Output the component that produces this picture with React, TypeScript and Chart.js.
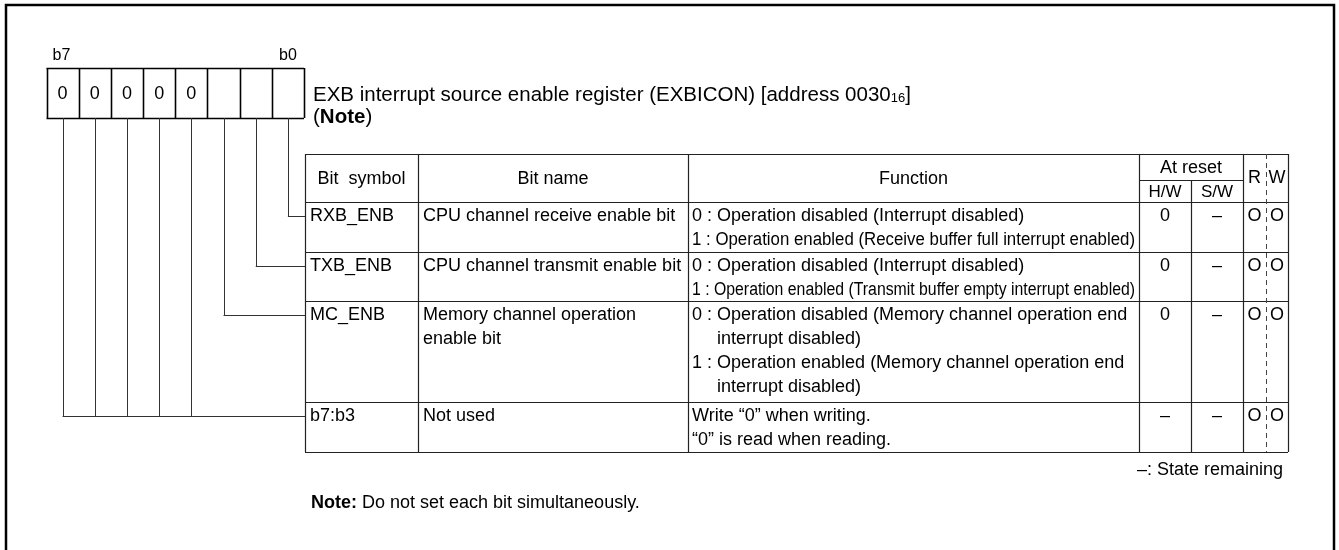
import React, { useEffect, useRef } from 'react';
import { Chart, registerables } from 'chart.js';

Chart.register(...registerables);

// ---------------- data ----------------
const bitEndLabels = ['b7', 'b0'];
const bitCellValues = ['0', '0', '0', '0', '0', '', '', '']; // b7 .. b0
const registerTitle = 'EXB interrupt source enable register (EXBICON) [address 0030';
const registerAddressSub = '16';
const registerAddressTail = ']';
const noteRefWord = 'Note';
const headerLabels = ['Bit  symbol', 'Bit name', 'Function'];
const resetHeader = 'At reset';
const resetSubHeaders = ['H/W', 'S/W'];
const rwHeaders = ['R', 'W'];
const bitSymbols = ['RXB_ENB', 'TXB_ENB', 'MC_ENB', 'b7:b3'];
const bitNames = [
  ['CPU channel receive enable bit'],
  ['CPU channel transmit enable bit'],
  ['Memory channel operation', 'enable bit'],
  ['Not used'],
];
const functionTexts = [
  ['0 : Operation disabled (Interrupt disabled)', '1 : Operation enabled (Receive buffer full interrupt enabled)'],
  ['0 : Operation disabled (Interrupt disabled)', '1 : Operation enabled (Transmit buffer empty interrupt enabled)'],
  [
    '0 : Operation disabled (Memory channel operation end',
    'interrupt disabled)',
    '1 : Operation enabled (Memory channel operation end',
    'interrupt disabled)',
  ],
  ['Write \u201C0\u201D when writing.', '\u201C0\u201D is read when reading.'],
];
const hwResetValues = ['0', '0', '0', '\u2013'];
const swResetValues = ['\u2013', '\u2013', '\u2013', '\u2013'];
const readFlags = ['O', 'O', 'O', 'O'];
const writeFlags = ['O', 'O', 'O', 'O'];
const rowBitNumbers = [[0], [1], [2], [3, 4, 5, 6, 7]];
const legendNote = '\u2013: State remaining';
const footNoteLabel = 'Note:';
const footNoteText = ' Do not set each bit simultaneously.';

// ---------------- layout (page units) ----------------
const PAGE_W = 1339;
const PAGE_H = 550;
const FONT = '"Liberation Sans", Arial, Helvetica, sans-serif';
const LAYOUT = {
  frame: { x: 6, y: 5, w: 1328, h: 600, lw: 2.5 },
  bits: { x0: 46.5, x1: 304, top: 68, bottom: 118, labelY: 56, labelSize: 16, valueSize: 18 },
  title: { x: 313, y: 95, noteY: 117, size: 20.5, subSize: 13 },
  cols: [305, 418, 688, 1139, 1191, 1243, 1288],
  rwSplit: 1266,
  tableTop: 154,
  resetMid: 180,
  rowEdges: [202, 252, 301, 402, 452],
  textSize: 18,
  firstLine: 14,
  lineGap: 24,
  padX: 5,
  legend: { x: 1283, y: 470 },
  foot: { x: 311, y: 503 },
};

type TextOpts = { size?: number; bold?: boolean; align?: CanvasTextAlign; maxW?: number };

const diagramPlugin = {
  id: 'registerDiagram',
  afterDraw(chart: any) {
    const { ctx, scales } = chart;
    const sx = scales.x;
    const sy = scales.y;
    const px = (v: number) => sx.getPixelForValue(v);
    const py = (v: number) => sy.getPixelForValue(v);
    const crisp = (v: number) => Math.round(v) + 0.5;

    const text = (s: string, x: number, y: number, o: TextOpts = {}) => {
      ctx.save();
      ctx.font = `${o.bold ? 'bold ' : ''}${o.size ?? LAYOUT.textSize}px ${FONT}`;
      ctx.fillStyle = '#000';
      ctx.textAlign = o.align ?? 'left';
      ctx.textBaseline = 'middle';
      if (o.maxW) ctx.fillText(s, px(x), py(y), o.maxW);
      else ctx.fillText(s, px(x), py(y));
      ctx.restore();
    };
    const measure = (s: string, size: number, bold = false) => {
      ctx.save();
      ctx.font = `${bold ? 'bold ' : ''}${size}px ${FONT}`;
      const w = ctx.measureText(s).width;
      ctx.restore();
      return w;
    };
    const line = (x1: number, y1: number, x2: number, y2: number, color = '#222', lw = 1, dash: number[] = []) => {
      ctx.save();
      ctx.strokeStyle = color;
      ctx.lineWidth = lw;
      ctx.setLineDash(dash);
      ctx.beginPath();
      const X1 = x1 === x2 ? crisp(px(x1)) : px(x1);
      const X2 = x1 === x2 ? crisp(px(x2)) : px(x2);
      const Y1 = y1 === y2 ? crisp(py(y1)) : py(y1);
      const Y2 = y1 === y2 ? crisp(py(y2)) : py(y2);
      ctx.moveTo(X1, Y1);
      ctx.lineTo(X2, Y2);
      ctx.stroke();
      ctx.restore();
    };

    // outer frame
    const F = LAYOUT.frame;
    ctx.save();
    ctx.strokeStyle = '#000';
    ctx.lineWidth = F.lw;
    ctx.strokeRect(px(F.x), py(F.y), px(F.x + F.w) - px(F.x), py(F.y + F.h) - py(F.y));
    ctx.restore();

    // bit boxes
    const B = LAYOUT.bits;
    const n = bitCellValues.length;
    const cw = (B.x1 - B.x0) / n;
    const cellCenter = (i: number) => B.x0 + cw * (i + 0.5);
    const bitX = (bit: number) => cellCenter(n - 1 - bit);
    text(bitEndLabels[0], B.x0 + 6, B.labelY, { size: B.labelSize });
    text(bitEndLabels[1], B.x1 - 25, B.labelY, { size: B.labelSize });
    for (let i = 0; i <= n; i++) line(B.x0 + cw * i, B.top, B.x0 + cw * i, B.bottom, '#000', 1.6);
    line(B.x0, B.top, B.x1, B.top, '#000', 1.6);
    line(B.x0, B.bottom, B.x1, B.bottom, '#000', 1.6);
    bitCellValues.forEach((v, i) => {
      if (v) text(v, cellCenter(i), (B.top + B.bottom) / 2 + 1, { size: B.valueSize, align: 'center' });
    });

    // title
    const T = LAYOUT.title;
    let tx = T.x;
    text(registerTitle, tx, T.y, { size: T.size });
    tx += measure(registerTitle, T.size);
    text(registerAddressSub, tx, T.y + 3, { size: T.subSize });
    tx += measure(registerAddressSub, T.subSize);
    text(registerAddressTail, tx, T.y, { size: T.size });
    let nx = T.x;
    text('(', nx, T.noteY, { size: T.size });
    nx += measure('(', T.size);
    text(noteRefWord, nx, T.noteY, { size: T.size, bold: true });
    nx += measure(noteRefWord, T.size, true);
    text(')', nx, T.noteY, { size: T.size });

    // table grid
    const C = LAYOUT.cols;
    const R = LAYOUT.rowEdges;
    const top = LAYOUT.tableTop;
    const bottom = R[R.length - 1];
    const gridColor = '#222';
    line(C[0], top, C[C.length - 1], top, gridColor, 1.2);
    R.forEach((yv) => line(C[0], yv, C[C.length - 1], yv, gridColor, 1.2));
    line(C[3], LAYOUT.resetMid, C[5], LAYOUT.resetMid, gridColor, 1.2);
    C.forEach((xv, i) => {
      const y0 = i === 4 ? LAYOUT.resetMid : top;
      line(xv, y0, xv, bottom, gridColor, 1.2);
    });
    line(LAYOUT.rwSplit, top, LAYOUT.rwSplit, bottom, '#444', 1, [5, 4]);

    // headers
    const headMidY = (top + R[0]) / 2 + 1;
    headerLabels.forEach((h, i) => text(h, (C[i] + C[i + 1]) / 2, headMidY, { align: 'center' }));
    text(resetHeader, (C[3] + C[5]) / 2, (top + LAYOUT.resetMid) / 2 + 1, { align: 'center' });
    resetSubHeaders.forEach((h, i) =>
      text(h, (C[3 + i] + C[4 + i]) / 2, (LAYOUT.resetMid + R[0]) / 2 + 1, { align: 'center', size: 17 })
    );
    text(rwHeaders[0], (C[5] + LAYOUT.rwSplit) / 2, headMidY - 1, { align: 'center' });
    text(rwHeaders[1], (LAYOUT.rwSplit + C[6]) / 2, headMidY - 1, { align: 'center' });

    // rows
    const pad = LAYOUT.padX;
    const prefixW = measure('0 : ', LAYOUT.textSize);
    bitSymbols.forEach((sym, r) => {
      const y0 = R[r] + LAYOUT.firstLine;
      text(sym, C[0] + pad, y0);
      bitNames[r].forEach((s, k) => text(s, C[1] + pad, y0 + k * LAYOUT.lineGap, { maxW: C[2] - C[1] - 2 * pad }));
      const lines = functionTexts[r];
      const hasPrefix = lines.some((s) => /^\d :/.test(s));
      lines.forEach((s, k) => {
        const indent = hasPrefix && !/^\d :/.test(s) ? prefixW : 0;
        text(s, C[2] + 4 + indent, y0 + k * LAYOUT.lineGap, { maxW: C[3] - C[2] - 8 - indent });
      });
      text(hwResetValues[r], (C[3] + C[4]) / 2, y0, { align: 'center' });
      text(swResetValues[r], (C[4] + C[5]) / 2, y0, { align: 'center' });
      text(readFlags[r], (C[5] + LAYOUT.rwSplit) / 2, y0, { align: 'center' });
      text(writeFlags[r], (LAYOUT.rwSplit + C[6]) / 2, y0, { align: 'center' });

      // leader lines from bit cells
      const bits = rowBitNumbers[r];
      const leaderY = y0;
      bits.forEach((b) => line(bitX(b), B.bottom, bitX(b), leaderY, '#333', 1));
      const leftMost = Math.min(...bits.map(bitX));
      line(leftMost, leaderY, C[0], leaderY, '#333', 1);
    });

    // legend and footnote
    text(legendNote, LAYOUT.legend.x, LAYOUT.legend.y, { align: 'right' });
    const fl = LAYOUT.foot;
    text(footNoteLabel, fl.x, fl.y, { bold: true });
    text(footNoteText, fl.x + measure(footNoteLabel, LAYOUT.textSize, true), fl.y);
  },
};

export default function App() {
  const canvasRef = useRef<HTMLCanvasElement | null>(null);

  useEffect(() => {
    const canvas = canvasRef.current;
    if (!canvas) return;
    const chart = new Chart(canvas, {
      type: 'scatter',
      data: { datasets: [{ data: [], pointRadius: 0 }] },
      options: {
        animation: false,
        responsive: false,
        devicePixelRatio: 1,
        layout: { padding: 0 },
        plugins: { legend: { display: false }, tooltip: { enabled: false }, title: { display: false } },
        scales: {
          x: { type: 'linear', min: 0, max: PAGE_W, display: false },
          y: { type: 'linear', min: 0, max: PAGE_H, reverse: true, display: false },
        },
      },
      plugins: [diagramPlugin],
    });
    return () => chart.destroy();
  }, []);

  return (
    <div style={{ position: 'absolute', left: 0, top: 0, width: PAGE_W, height: PAGE_H, background: '#fff' }}>
      <canvas ref={canvasRef} width={PAGE_W} height={PAGE_H} style={{ display: 'block' }} />
    </div>
  );
}
